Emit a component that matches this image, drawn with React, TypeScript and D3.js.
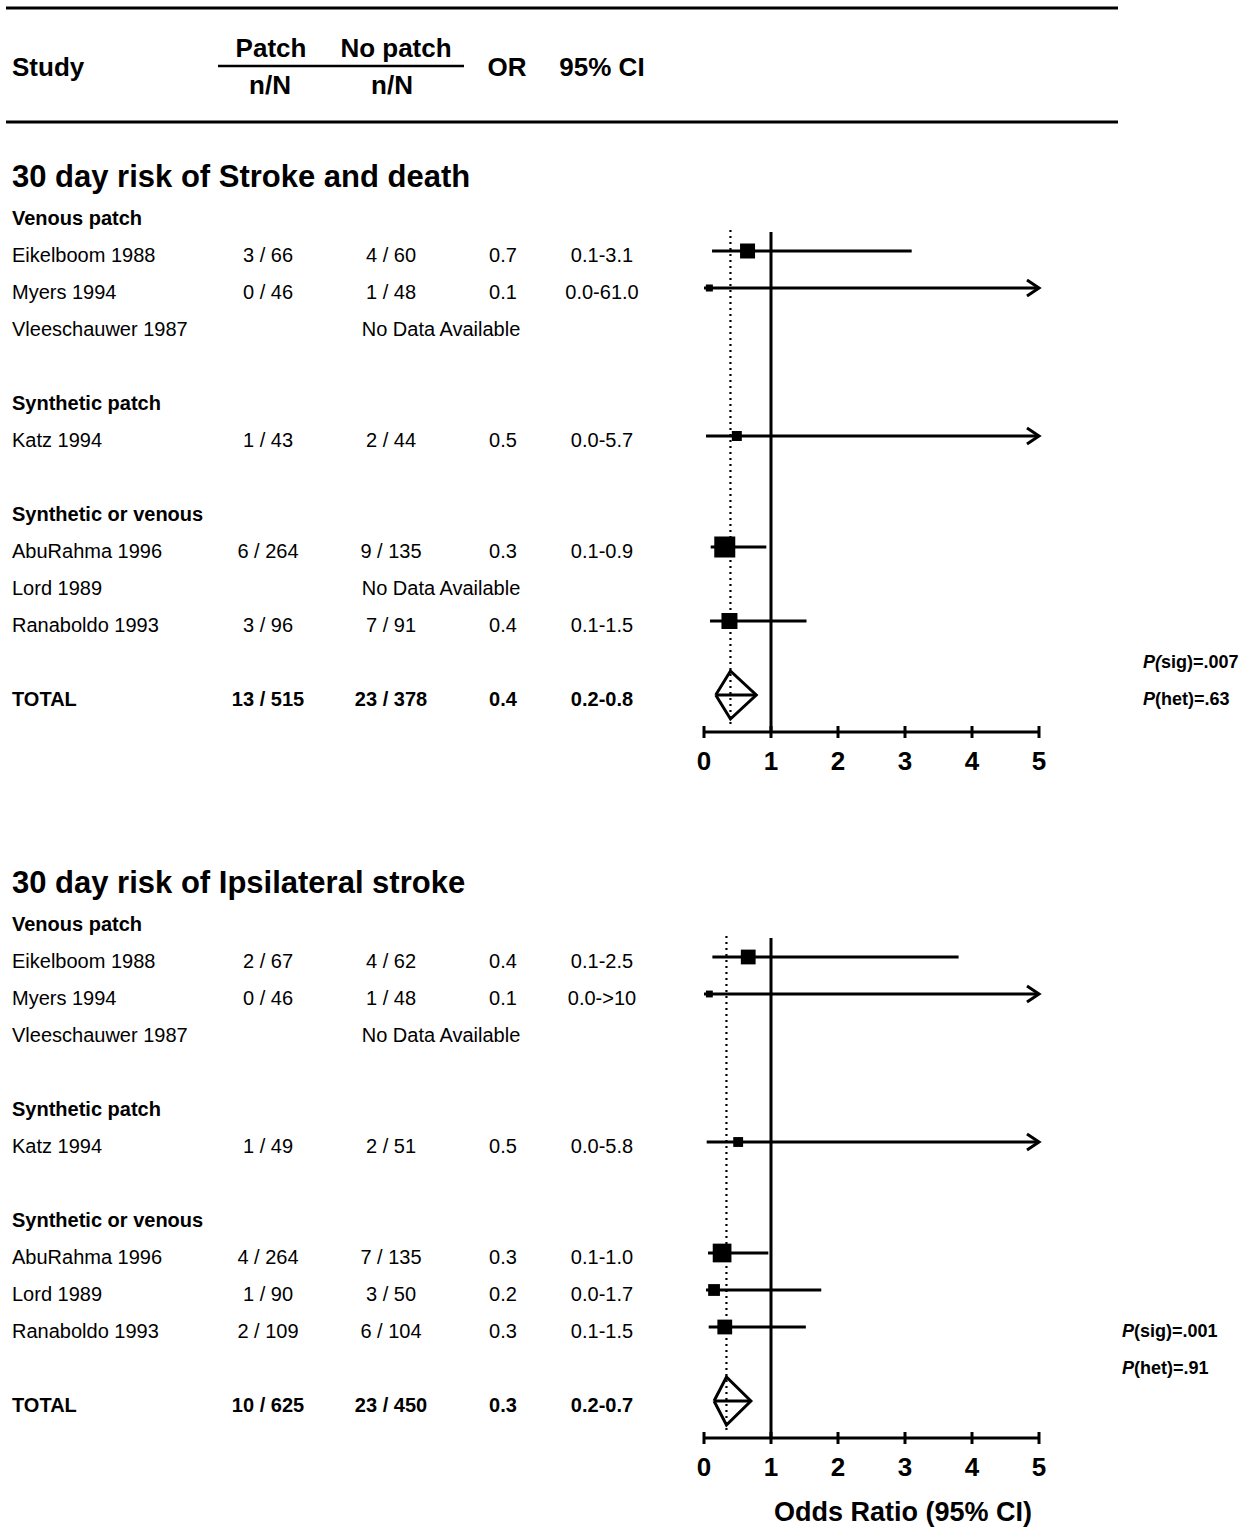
import React from 'react';
import { scaleLinear, scaleSqrt, line } from 'd3';

const FONT = 'Arial, "Liberation Sans", Helvetica, sans-serif';

// header labels
const headStudy = 'Study';
const headArms = ['Patch', 'No patch'];
const headUnit = 'n/N';
const headOR = 'OR';
const headCI = '95% CI';
const axisTitle = 'Odds Ratio (95% CI)';

// studies and subgroups (same order in both panels)
const groupNames = ['Venous patch', 'Synthetic patch', 'Synthetic or venous'];
const studies = ['Eikelboom 1988', 'Myers 1994', 'Vleeschauwer 1987', 'Katz 1994', 'AbuRahma 1996', 'Lord 1989', 'Ranaboldo 1993'];
const studyGroup = [0, 0, 0, 1, 2, 2, 2];
const ticks = [0, 1, 2, 3, 4, 5];

// panel 1: stroke and death
const sdTitle = '30 day risk of Stroke and death';
const sdPatch = ['3 / 66', '0 / 46', '', '1 / 43', '6 / 264', '', '3 / 96'];
const sdNoPatch = ['4 / 60', '1 / 48', '', '2 / 44', '9 / 135', '', '7 / 91'];
const sdOR = ['0.7', '0.1', '', '0.5', '0.3', '', '0.4'];
const sdCI = ['0.1-3.1', '0.0-61.0', '', '0.0-5.7', '0.1-0.9', '', '0.1-1.5'];
// values as drawn on the plot
const sdEst = [0.65, 0.08, null, 0.49, 0.31, null, 0.38];
const sdLo = [0.12, 0.0, null, 0.03, 0.1, null, 0.09];
const sdHi = [3.1, 61, null, 5.7, 0.93, null, 1.53];
const sdWeight = [21, 4.6, null, 9.3, 41.2, null, 23.9];
const sdTotal = ['13 / 515', '23 / 378', '0.4', '0.2-0.8'];
const sdTotalCI = [0.175, 0.395, 0.78];
const sdPSig = '.007';
const sdPHet = '.63';

// panel 2: ipsilateral stroke
const isTitle = '30 day risk of Ipsilateral stroke';
const isPatch = ['2 / 67', '0 / 46', '', '1 / 49', '4 / 264', '1 / 90', '2 / 109'];
const isNoPatch = ['4 / 62', '1 / 48', '', '2 / 51', '7 / 135', '3 / 50', '6 / 104'];
const isOR = ['0.4', '0.1', '', '0.5', '0.3', '0.2', '0.3'];
const isCI = ['0.1-2.5', '0.0->10', '', '0.0-5.8', '0.1-1.0', '0.0-1.7', '0.1-1.5'];
const isEst = [0.66, 0.08, null, 0.51, 0.27, 0.15, 0.31];
const isLo = [0.125, 0.0, null, 0.04, 0.06, 0.03, 0.07];
const isHi = [3.8, 10, null, 5.8, 0.96, 1.75, 1.52];
const isWeight = [20.4, 4.4, null, 9.1, 32.7, 13.0, 20.4];
const isTotal = ['10 / 625', '23 / 450', '0.3', '0.2-0.7'];
const isTotalCI = [0.15, 0.335, 0.7];
const isPSig = '.001';
const isPHet = '.91';

const panels = [
  { top: 214, title: sdTitle, patch: sdPatch, noPatch: sdNoPatch, or: sdOR, ci: sdCI, est: sdEst, lo: sdLo, hi: sdHi, weight: sdWeight, total: sdTotal, totalCI: sdTotalCI, pSig: sdPSig, pHet: sdPHet, pSigRow: 12, pX: 1143, italicParen: true, axisLabel: false },
  { top: 920, title: isTitle, patch: isPatch, noPatch: isNoPatch, or: isOR, ci: isCI, est: isEst, lo: isLo, hi: isHi, weight: isWeight, total: isTotal, totalCI: isTotalCI, pSig: isPSig, pHet: isPHet, pSigRow: 11, pX: 1122, italicParen: false, axisLabel: true },
];

const ROW = 37;
const colPatch = 268;
const colNoPatch = 391;
const colOR = 503;
const colCI = 602;
const colNoData = 441;

const x = scaleLinear().domain([0, 5]).range([704, 1039]);
const size = scaleSqrt().domain([0, 41.2]).range([0, 21]);

// rows: group header, its studies, then a blank row
const layout = (() => {
  const groupRow: number[] = [];
  const studyRow: number[] = [];
  let r = 0;
  groupNames.forEach((_, g) => {
    groupRow.push(r++);
    studies.forEach((_, i) => {
      if (studyGroup[i] === g) studyRow[i] = r++;
    });
    r++;
  });
  return { groupRow, studyRow, totalRow: r, axisRow: r + 1 };
})();

const Txt = ({ x, y, children, size = 20, bold = false, anchor = 'start', italic = false }: any) => (
  <text x={x} y={y} dy="0.35em" fontSize={size} fontWeight={bold ? 'bold' : 'normal'} fontStyle={italic ? 'italic' : 'normal'} textAnchor={anchor} fontFamily={FONT} fill="#000">
    {children}
  </text>
);

const Panel = ({ p }: any) => {
  const y = scaleLinear().domain([0, 1]).range([p.top, p.top + ROW]);
  const ty = (r: number) => y(r) + 4;
  const axisY = y(layout.axisRow);
  const [tLo, tEst, tHi] = p.totalCI;
  const tY = y(layout.totalRow);
  const diamond = line()([[x(tLo), tY], [x(tEst), tY - 24], [x(tHi), tY], [x(tEst), tY + 24], [x(tLo), tY]]) as string;

  return (
    <g>
      <Txt x={12} y={p.top - 38} size={31} bold>{p.title}</Txt>
      {groupNames.map((g, gi) => (
        <Txt key={g} x={12} y={ty(layout.groupRow[gi])} bold>{g}</Txt>
      ))}
      {studies.map((s, i) => {
        const r = layout.studyRow[i];
        return (
          <g key={s}>
            <Txt x={12} y={ty(r)}>{s}</Txt>
            {p.est[i] == null ? (
              <Txt x={colNoData} y={ty(r)} anchor="middle">No Data Available</Txt>
            ) : (
              <>
                <Txt x={colPatch} y={ty(r)} anchor="middle">{p.patch[i]}</Txt>
                <Txt x={colNoPatch} y={ty(r)} anchor="middle">{p.noPatch[i]}</Txt>
                <Txt x={colOR} y={ty(r)} anchor="middle">{p.or[i]}</Txt>
                <Txt x={colCI} y={ty(r)} anchor="middle">{p.ci[i]}</Txt>
              </>
            )}
          </g>
        );
      })}
      <Txt x={12} y={ty(layout.totalRow)} bold>TOTAL</Txt>
      <Txt x={colPatch} y={ty(layout.totalRow)} anchor="middle" bold>{p.total[0]}</Txt>
      <Txt x={colNoPatch} y={ty(layout.totalRow)} anchor="middle" bold>{p.total[1]}</Txt>
      <Txt x={colOR} y={ty(layout.totalRow)} anchor="middle" bold>{p.total[2]}</Txt>
      <Txt x={colCI} y={ty(layout.totalRow)} anchor="middle" bold>{p.total[3]}</Txt>

      {/* P values */}
      <text x={p.pX} y={ty(p.pSigRow)} dy="0.35em" fontSize={18} fontWeight="bold" fontFamily={FONT}>
        <tspan fontStyle="italic">{p.italicParen ? 'P(' : 'P'}</tspan>
        <tspan>{(p.italicParen ? '' : '(') + 'sig)=' + p.pSig}</tspan>
      </text>
      <text x={p.pX} y={ty(p.pSigRow + 1)} dy="0.35em" fontSize={18} fontWeight="bold" fontFamily={FONT}>
        <tspan fontStyle="italic">P</tspan>
        <tspan>{'(het)=' + p.pHet}</tspan>
      </text>

      {/* reference lines */}
      <line x1={x(tEst)} x2={x(tEst)} y1={y(0) + 16} y2={axisY - 4} stroke="#000" strokeWidth={2.2} strokeDasharray="2 4" />
      <line x1={x(1)} x2={x(1)} y1={y(0) + 18} y2={axisY} stroke="#000" strokeWidth={3} />

      {/* study estimates */}
      {studies.map((s, i) => {
        if (p.est[i] == null) return null;
        const cy = y(layout.studyRow[i]);
        const arrow = p.hi[i] > 5;
        const xEnd = x(Math.min(p.hi[i], 5));
        const side = size(p.weight[i]);
        return (
          <g key={s}>
            <line x1={x(p.lo[i])} x2={xEnd} y1={cy} y2={cy} stroke="#000" strokeWidth={3} />
            {arrow && (
              <path d={`M${xEnd - 12},${cy - 8}L${xEnd},${cy}L${xEnd - 12},${cy + 8}`} fill="none" stroke="#000" strokeWidth={3} />
            )}
            <rect x={x(p.est[i]) - side / 2} y={cy - side / 2} width={side} height={side} fill="#000" />
          </g>
        );
      })}

      {/* pooled diamond */}
      <path d={diamond} fill="none" stroke="#000" strokeWidth={3} strokeLinejoin="miter" />
      <line x1={x(tLo)} x2={x(tHi)} y1={tY} y2={tY} stroke="#000" strokeWidth={3} />

      {/* axis */}
      <line x1={x(0)} x2={x(5)} y1={axisY} y2={axisY} stroke="#000" strokeWidth={3} />
      {ticks.map((t) => (
        <g key={t}>
          <line x1={x(t)} x2={x(t)} y1={axisY - 6} y2={axisY + 6} stroke="#000" strokeWidth={3} />
          <Txt x={x(t)} y={axisY + 29} size={26} bold anchor="middle">{t}</Txt>
        </g>
      ))}
      {p.axisLabel && (
        <Txt x={903} y={axisY + 74} size={27} bold anchor="middle">{axisTitle}</Txt>
      )}
    </g>
  );
};

export default function App() {
  return (
    <svg width={1248} height={1532} style={{ position: 'absolute', left: 0, top: 0, background: '#fff' }}>
      {/* header */}
      <line x1={6} x2={1118} y1={8} y2={8} stroke="#000" strokeWidth={3} />
      <line x1={6} x2={1118} y1={122} y2={122} stroke="#000" strokeWidth={3} />
      <Txt x={12} y={67} size={26} bold>{headStudy}</Txt>
      <Txt x={271} y={48} size={26} bold anchor="middle">{headArms[0]}</Txt>
      <Txt x={396} y={48} size={26} bold anchor="middle">{headArms[1]}</Txt>
      <line x1={218} x2={464} y1={66} y2={66} stroke="#000" strokeWidth={2.5} />
      <Txt x={270} y={85} size={26} bold anchor="middle">{headUnit}</Txt>
      <Txt x={392} y={85} size={26} bold anchor="middle">{headUnit}</Txt>
      <Txt x={507} y={67} size={26} bold anchor="middle">{headOR}</Txt>
      <Txt x={602} y={67} size={26} bold anchor="middle">{headCI}</Txt>

      {panels.map((p, i) => (
        <Panel key={i} p={p} />
      ))}
    </svg>
  );
}
